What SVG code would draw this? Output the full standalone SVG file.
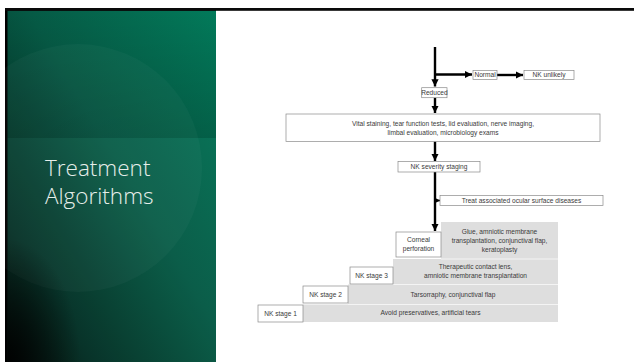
<svg xmlns="http://www.w3.org/2000/svg" width="634" height="362" viewBox="0 0 634 362">
<defs>
<linearGradient id="gBase" x1="1" y1="0" x2="0" y2="1">
<stop offset="0" stop-color="#027a5a"/>
<stop offset="0.45" stop-color="#065a45"/>
<stop offset="0.8" stop-color="#032f24"/>
<stop offset="1" stop-color="#010d0a"/>
</linearGradient>
<linearGradient id="gTop" x1="0" y1="0" x2="0" y2="1">
<stop offset="0" stop-color="#000" stop-opacity="0"/>
<stop offset="1" stop-color="#000" stop-opacity="0.12"/>
</linearGradient>
<radialGradient id="gCorner" cx="0" cy="1" r="0.35">
<stop offset="0" stop-color="#000" stop-opacity="0.9"/>
<stop offset="1" stop-color="#000" stop-opacity="0"/>
</radialGradient>
<marker id="ah" viewBox="0 0 10 10" refX="10" refY="5" markerWidth="3" markerHeight="3" orient="auto" markerUnits="strokeWidth">
<path d="M0,0 L10,5 L0,10 Z" fill="#000"/>
</marker>
<style>
.t{font-family:"Liberation Sans",Arial,sans-serif;font-size:6.6px;fill:#3a3a3a;text-anchor:middle}
.b{fill:#fff;stroke:#8a8a8a;stroke-width:0.7}
.g{fill:#dedede}
.sep{stroke:#f4f4f4;stroke-width:1}
.ln{stroke:#000;stroke-width:2.4;fill:none}
.title{font-family:"Open Sans","Noto Sans",sans-serif;font-size:22.5px;fill:#e6eeea;font-weight:300}
</style>
</defs>
<rect x="0" y="0" width="634" height="362" fill="#fff"/>
<g id="panel">
<rect x="5" y="8" width="211" height="354" fill="#000"/>
<rect x="7.5" y="10.5" width="208.5" height="351.5" fill="url(#gBase)"/>
<rect x="7.5" y="10.5" width="208.5" height="127.5" fill="url(#gTop)"/>
<rect x="7.5" y="138" width="208.5" height="224" fill="#fff" opacity="0.025"/>
<circle cx="78" cy="168" r="124" fill="#fff" opacity="0.03"/>
<rect x="7.5" y="10.5" width="208.5" height="351.5" fill="url(#gCorner)"/>
<text class="title" x="45" y="176">Treatment</text>
<text class="title" x="45" y="204">Algorithms</text>
</g>
<rect x="5" y="8" width="629" height="2.8" fill="#0a0a0a"/>
<g id="connectors">
<path class="ln" d="M435,47 V86.5" marker-end="url(#ah)"/>
<path class="ln" d="M435,74.5 H472" marker-end="url(#ah)"/>
<path class="ln" d="M497,75 H523" marker-end="url(#ah)"/>
<path class="ln" d="M435,97.7 V113" marker-end="url(#ah)"/>
<path class="ln" d="M435,141.5 V161" marker-end="url(#ah)"/>
<path class="ln" d="M435,172 V231"  marker-end="url(#ah)"/>
<path d="M435,200.5 H440" stroke="#000" stroke-width="1.6" marker-end="url(#ah)"/>
</g>
<g id="normal"><rect class="b" x="473" y="70.5" width="24" height="9"/><text class="t" x="485" y="77.4">Normal</text></g>
<g id="nk-unlikely"><rect class="b" x="524" y="70.5" width="50" height="9"/><text class="t" x="549" y="77.4">NK unlikely</text></g>
<g id="reduced"><rect class="b" x="421.7" y="87.7" width="25.3" height="10"/><text class="t" x="434.4" y="95">Reduced</text></g>
<g id="tests"><rect class="b" x="286" y="114" width="314" height="27.5"/><text class="t" x="443" y="125.5">Vital staining, tear function tests, lid evaluation, nerve imaging,</text><text class="t" x="443" y="134.5">limbal evaluation, microbiology exams</text></g>
<g id="severity"><rect class="b" x="398" y="161.5" width="82" height="10.5"/><text class="t" x="439" y="169.2">NK severity staging</text></g>
<g id="treat"><rect class="b" x="440" y="195.5" width="163" height="10"/><text class="t" x="521.5" y="203">Treat associated ocular surface diseases</text></g>
<g id="stairs">
<rect class="g" x="441" y="222" width="117" height="37"/>
<rect class="g" x="393" y="259" width="165" height="25.5"/>
<rect class="g" x="348" y="284.5" width="210" height="20"/>
<rect class="g" x="303" y="304.5" width="255" height="17.5"/>
<line class="sep" x1="441" y1="259" x2="558" y2="259"/>
<line class="sep" x1="393" y1="284.5" x2="558" y2="284.5"/>
<line class="sep" x1="348" y1="304.5" x2="558" y2="304.5"/>
</g>
<g id="corneal"><rect class="b" x="396" y="232" width="45" height="25"/><text class="t" x="418.5" y="241.5">Corneal</text><text class="t" x="418.5" y="250.5">perforation</text></g>
<g id="corneal-tx"><text class="t" x="499.5" y="233.5">Glue, amniotic membrane</text><text class="t" x="499.5" y="242.5">transplantation, conjunctival flap,</text><text class="t" x="499.5" y="251.5">keratoplasty</text></g>
<g id="stage3"><rect class="b" x="350" y="267" width="43" height="17"/><text class="t" x="371.5" y="277.8">NK stage 3</text></g>
<g id="stage3-tx"><text class="t" x="475.5" y="269">Therapeutic contact lens,</text><text class="t" x="475.5" y="278">amniotic membrane transplantation</text></g>
<g id="stage2"><rect class="b" x="303" y="286" width="45" height="17"/><text class="t" x="325.5" y="296.8">NK stage 2</text></g>
<g id="stage2-tx"><text class="t" x="453" y="296.5">Tarsorraphy, conjunctival flap</text></g>
<g id="stage1"><rect class="b" x="258" y="305" width="45" height="17"/><text class="t" x="280.5" y="315.8">NK stage 1</text></g>
<g id="stage1-tx"><text class="t" x="430.5" y="315">Avoid preservatives, artificial tears</text></g>
</svg>
